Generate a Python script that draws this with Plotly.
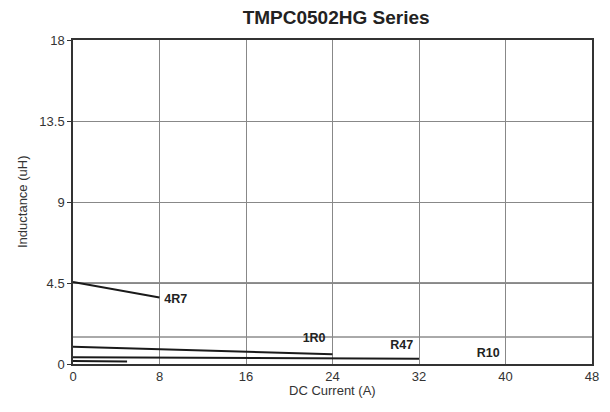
import plotly.graph_objects as go

# Data
series_names = ["4R7", "1R0", "R47", "R10"]
x_4r7 = [0, 8]
y_4r7 = [4.55, 3.7]
x_1r0 = [0, 24]
y_1r0 = [0.96, 0.54]
x_r47 = [0, 32]
y_r47 = [0.38, 0.29]
x_r10 = [0, 5]
y_r10 = [0.16, 0.14]

label_x = [9.5, 22.3, 30.4, 38.4]
label_y = [3.55, 1.39, 1.0, 0.55]

x_ticks = [0, 8, 16, 24, 32, 40, 48]
y_ticks = [0, 4.5, 9, 13.5, 18]
y_tick_text = ["0", "4.5", "9", "13.5", "18"]
extra_grid_y = [1.5]

fig = go.Figure()
for xs, ys, nm in [(x_4r7, y_4r7, "4R7"), (x_1r0, y_1r0, "1R0"),
                   (x_r47, y_r47, "R47"), (x_r10, y_r10, "R10")]:
    fig.add_trace(go.Scatter(x=xs, y=ys, mode="lines", name=nm,
                             line=dict(color="#1a1a1a", width=2), showlegend=False))

fig.add_trace(go.Scatter(x=label_x, y=label_y, mode="text",
                         text=["<b>%s</b>" % s for s in series_names],
                         textfont=dict(family="Liberation Sans, Arial", size=12.5, color="#222"),
                         textposition="middle center", showlegend=False))

for gy in extra_grid_y:
    fig.add_shape(type="line", xref="x", yref="y", x0=0, x1=48, y0=gy, y1=gy,
                  line=dict(color="#555", width=1), layer="below")
fig.add_shape(type="line", xref="x", yref="y", x0=0, x1=48, y0=4.5, y1=4.5,
              line=dict(color="#222", width=1), layer="below")

fig.add_annotation(text="DC Current (A)", xref="paper", yref="paper", x=0.5, y=0,
                   yshift=-26, xanchor="center", yanchor="middle", showarrow=False,
                   font=dict(size=13, color="#333"))
fig.add_annotation(text="Inductance (uH)", xref="paper", yref="paper", x=0, y=0.5,
                   xshift=-51, xanchor="center", yanchor="middle", textangle=-90,
                   showarrow=False, font=dict(size=13, color="#333"))

fig.update_layout(
    width=602, height=404,
    margin=dict(l=65, r=18, t=32, b=48),
    paper_bgcolor="white", plot_bgcolor="white",
    font=dict(family="Liberation Sans, Arial", size=13, color="#333"),
    title=dict(text="<b>TMPC0502HG Series</b>", x=0.545, xanchor="center",
               y=0.976, yanchor="middle",
               font=dict(size=19, color="#222")),
)
fig.update_xaxes(range=[0, 48], tickvals=x_ticks, showgrid=True, gridcolor="#888",
                 gridwidth=1, zeroline=False, showline=True, linecolor="#333",
                 linewidth=1.5, mirror=True, ticks="", ticklen=0, automargin=False,
                 tickfont=dict(size=13))
fig.update_yaxes(range=[0, 18], tickvals=y_ticks, ticktext=y_tick_text, showgrid=True,
                 gridcolor="#888", gridwidth=1, zeroline=False, showline=True,
                 linecolor="#333", linewidth=1.5, mirror=True, ticks="outside",
                 ticklen=4, tickcolor="#333", automargin=False,
                 tickfont=dict(size=13))

fig.write_html("out.html")
